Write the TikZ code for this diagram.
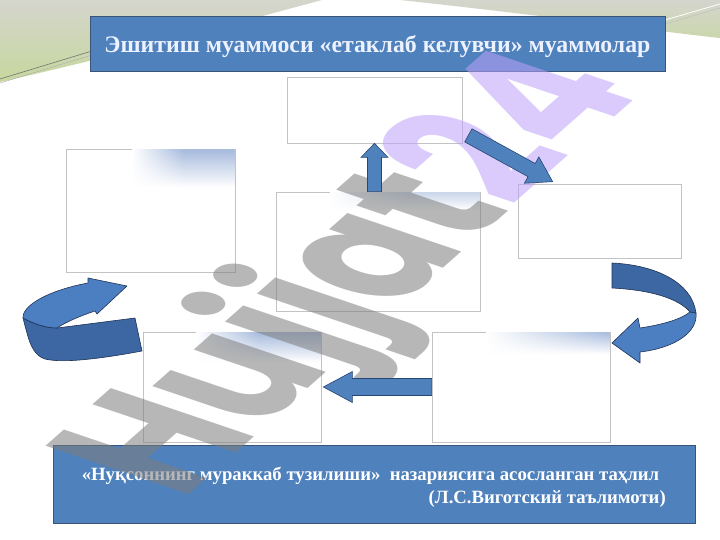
\documentclass[tikz,border=0pt]{standalone}
\usepackage{graphicx}
\usepackage{fontspec}
\setmainfont{Liberation Serif}
\newfontfamily\wmfont{Poppins}
\usetikzlibrary{calc,fadings}
\definecolor{hdrblue}{RGB}{79,129,189}
\definecolor{hdrborder}{RGB}{58,84,120}
\definecolor{arrline}{RGB}{40,70,115}
\definecolor{ribdark}{RGB}{60,103,163}
\definecolor{riblight}{RGB}{76,127,194}
\definecolor{ribline}{RGB}{30,50,85}
\definecolor{boxline}{RGB}{195,195,195}
\definecolor{gradblue}{RGB}{168,188,222}
\definecolor{topgrey}{RGB}{213,213,205}
\definecolor{topgreen}{RGB}{198,216,158}
\definecolor{wmgrey}{RGB}{125,125,125}
\definecolor{wmlav}{RGB}{190,160,250}
\definecolor{titletext}{RGB}{236,242,255}
\newcommand\blkarrow[6]{%
  \filldraw[#1] (#3) -- ($(#3)!#4!(#2)!#6!90:(#3)$) -- ($(#3)!#4!(#2)!#5!90:(#3)$)
   -- ($(#2)!#5!90:(#3)$) -- ($(#2)!#5!-90:(#3)$)
   -- ($(#3)!#4!(#2)!#5!-90:(#3)$) -- ($(#3)!#4!(#2)!#6!-90:(#3)$) -- cycle;}
\begin{document}
\begin{tikzpicture}[x=1pt,y=-1pt,
  emptybox/.style={draw=boxline, line width=0.7pt, fill=white, inner sep=0pt},
  bluebar/.style={draw=hdrborder, line width=1pt, fill=hdrblue, inner sep=0pt},
  blockarr/.style={fill=hdrblue, draw=arrline, line width=0.6pt, line join=miter},
  ribdarkst/.style={fill=ribdark, draw=ribline, line width=0.6pt, line join=round},
  riblightst/.style={fill=riblight, draw=ribline, line width=0.6pt, line join=round},
  gradstrip/.style={left color=white, right color=gradblue, path fading=south}]
\useasboundingbox (0,0) rectangle (720,540);
\fill[white] (0,0) rectangle (720,540);
% top background swooshes
\shade[top color=topgrey, bottom color=topgreen] (0,0) -- (322,0) .. controls (240,22) and (120,55) .. (0,82) -- cycle;
\shade[top color=topgrey, bottom color=topgreen!70!topgrey] (400,0) -- (720,0) -- (720,38) .. controls (680,34) and (540,15) .. (400,0) -- cycle;
\draw[line width=0.6pt, black!55] (0,79) -- (92,51);
\draw[line width=0.5pt, black!30] (0,83) -- (92,55);
\draw[white, line width=0.8pt] (665,20) -- (720,4);
\draw[black!25, line width=0.5pt] (665,24) -- (720,8);
% header
\node[bluebar, minimum width=575pt, minimum height=55pt] (hdr) at (377.5,44.5) {};
\node[text=titletext, inner sep=0pt] (title) at (377.5,46.5)
  {\resizebox{546pt}{!}{\fontsize{24pt}{28pt}\bfseries\selectfont Эшитиш муаммоси «етаклаб келувчи» муаммолар}};
% boxes
\node[emptybox, minimum width=175pt, minimum height=66pt] (top) at (374.5,110) {};
\node[emptybox, minimum width=169pt, minimum height=123pt] (lbox) at (150.5,210.5) {};
\node[emptybox, minimum width=204pt, minimum height=119pt] (ctr) at (378,251.5) {};
\node[emptybox, minimum width=163pt, minimum height=74pt] (rbox) at (599.5,221) {};
\node[emptybox, minimum width=178pt, minimum height=110pt] (bl) at (232,387) {};
\node[emptybox, minimum width=178pt, minimum height=110pt] (br) at (521,387) {};
% gradient strips
\shade[gradstrip, middle color=gradblue] (132,150) rectangle (234.5,187);
\shade[left color=white, right color=gradblue!60!white, middle color=gradblue!60!white, path fading=south] (330,192.5) rectangle (479.5,210);
\shade[gradstrip, middle color=gradblue] (196,332.5) rectangle (320.5,362);
\shade[gradstrip] (486,332.5) rectangle (609.5,354);
% bottom banner
\node[bluebar, minimum width=642pt, minimum height=78pt] (ban) at (374,484) {};
\node[text=white, inner sep=0pt, anchor=east] (bantext) at (666,487.5)
  {\resizebox{584pt}{!}{\fontsize{16pt}{19pt}\bfseries\selectfont
   \begin{tabular}{@{}r@{}}«Нуқсоннинг мураккаб тузилиши»\ \ назариясига асосланган таҳлил\hspace*{0.35em}\\(Л.С.Виготский таълимоти)\end{tabular}}};
% watermark
\begin{scope}[shift={(182,500)}, cm={0.725,0.641,-1.378,0.466,(0,0)}]
\node[transform shape, anchor=base west, inner sep=0pt, outer sep=0pt, text opacity=0.55] (wm) at (0,0)
  {\wmfont\bfseries\fontsize{148pt}{150pt}\selectfont\textcolor{wmgrey}{Hujjat}\textcolor{wmlav}{24}};
\end{scope}
% straight block arrows
\coordinate (upS) at (top.south |- ctr.north);
\coordinate (upE) at (top.south);
\coordinate (dgS) at ($(top.south east)+(6,-8)$);
\coordinate (dgE) at ($(rbox.north west)+(35,-2)$);
\coordinate (lfS) at (br.west);
\coordinate (lfE) at ($(bl.east)+(2,0)$);
\blkarrow{blockarr}{upS}{upE}{14pt}{7pt}{13.5pt}
\blkarrow{blockarr}{dgS}{dgE}{24pt}{7.5pt}{15pt}
\blkarrow{blockarr}{lfS}{lfE}{29pt}{8.5pt}{15.5pt}
% left curved ribbon arrow
\filldraw[ribdarkst] (135,318) -- (142,351) .. controls (110,357) and (65,364) .. (45,359)
  .. controls (35,356) and (30,345) .. (27,333) .. controls (25,326) and (24,322) .. (23,318)
  .. controls (34,324) and (46,328) .. (57,328) -- cycle;
\filldraw[riblightst] (23,318) .. controls (22,305) and (50,290) .. (88,283) -- (88,278) -- (127,286)
  -- (97,314) -- (95,311) .. controls (80,316) and (66,322) .. (57,328)
  .. controls (46,328) and (34,324) .. (23,318) -- cycle;
% right curved ribbon arrow
\filldraw[ribdarkst] (612,263) .. controls (655,265) and (692,282) .. (696,313) -- (690,312)
  .. controls (678,298) and (650,290) .. (612,288) -- cycle;
\filldraw[riblightst] (696,313) .. controls (698,332) and (675,348) .. (640,352) -- (640,363)
  -- (612,343) -- (638,318) -- (640,328) .. controls (660,325) and (680,320) .. (690,312) -- cycle;
\end{tikzpicture}
\end{document}
